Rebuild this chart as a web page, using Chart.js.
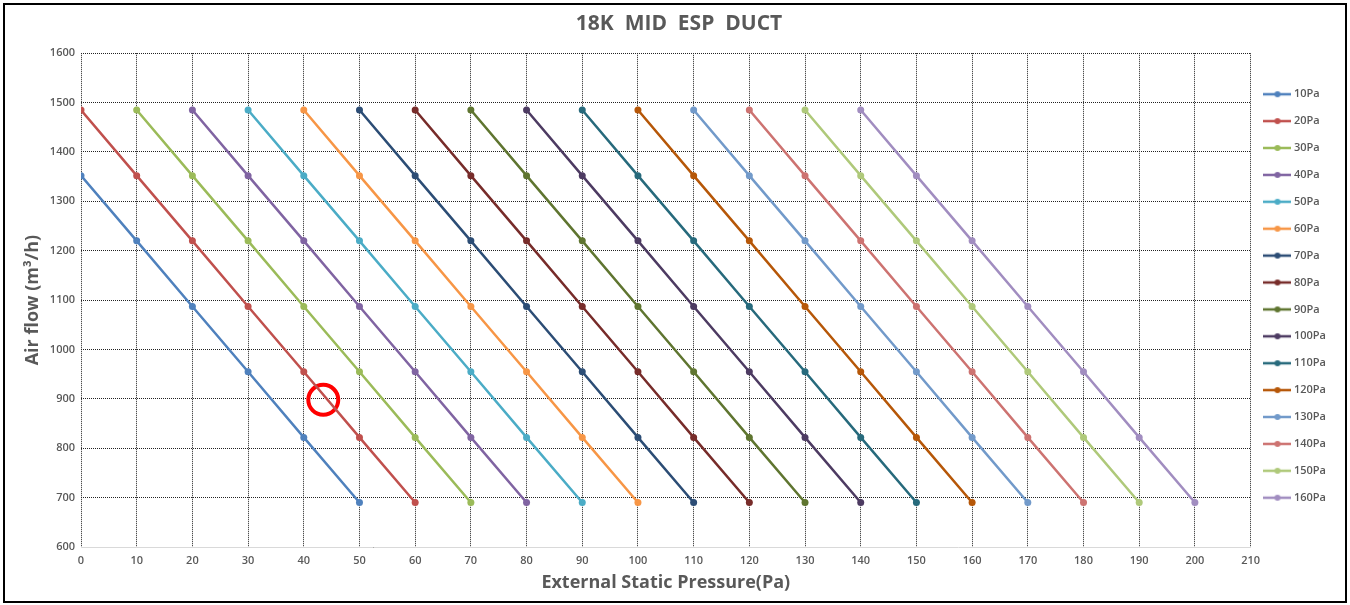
<!DOCTYPE html>
<html>
<head>
<meta charset="utf-8">
<script src="https://cdn.jsdelivr.net/npm/chart.js@4/dist/chart.umd.min.js"></script>
<style>
    html, body { margin: 0; padding: 0; background: #fff; }
    #wrap { position: relative; width: 1350px; height: 605px; }
    #frame { position: absolute; left: 3px; top: 3px; width: 1340px; height: 596px; border: 2px solid #000; pointer-events: none; }
</style>
</head>
<body>
<div id="wrap">
    <canvas id="ductChart" width="1350" height="605"></canvas>
    <div id="frame"></div>
</div>
<script>
// values
const seriesLabels = ['10Pa','20Pa','30Pa','40Pa','50Pa','60Pa','70Pa','80Pa','90Pa','100Pa','110Pa','120Pa','130Pa','140Pa','150Pa','160Pa'];
const seriesColors = ['#4F81BD','#C0504D','#9BBB59','#8064A2','#4BACC6','#F79646','#2C4D75','#772C2A','#5F7530','#4D3B62','#276A7C','#B65708','#729ACA','#CD7371','#AFC97A','#A18DC0'];

const pressures = [
    [0, 10, 20, 30, 40, 50],
    [0, 10, 20, 30, 40, 50, 60],
    [10, 20, 30, 40, 50, 60, 70],
    [20, 30, 40, 50, 60, 70, 80],
    [30, 40, 50, 60, 70, 80, 90],
    [40, 50, 60, 70, 80, 90, 100],
    [50, 60, 70, 80, 90, 100, 110],
    [60, 70, 80, 90, 100, 110, 120],
    [70, 80, 90, 100, 110, 120, 130],
    [80, 90, 100, 110, 120, 130, 140],
    [90, 100, 110, 120, 130, 140, 150],
    [100, 110, 120, 130, 140, 150, 160],
    [110, 120, 130, 140, 150, 160, 170],
    [120, 130, 140, 150, 160, 170, 180],
    [130, 140, 150, 160, 170, 180, 190],
    [140, 150, 160, 170, 180, 190, 200]
];
const airflowShort = [1352, 1220, 1087, 955, 822, 690];
const airflowFull = [1485, 1352, 1220, 1087, 955, 822, 690];
const airflows = [airflowShort, airflowFull, airflowFull, airflowFull, airflowFull, airflowFull, airflowFull, airflowFull,
    airflowFull, airflowFull, airflowFull, airflowFull, airflowFull, airflowFull, airflowFull, airflowFull];

const marked = { x: 43.5, y: 898 };   // red circle drawn on the picture

const xMin = 0, xMax = 210, xStep = 10;
const yMin = 600, yMax = 1600, yStep = 100;

const grey = '#595959';
const fontFamily = '"Open Sans", "Noto Sans", sans-serif';

function legendIcon(color) {
    const c = document.createElement('canvas');
    c.width = 28; c.height = 8;
    const g = c.getContext('2d');
    g.strokeStyle = color;
    g.lineWidth = 2.5;
    g.beginPath(); g.moveTo(0, 4); g.lineTo(28, 4); g.stroke();
    g.fillStyle = color;
    g.beginPath(); g.arc(14, 4, 3, 0, Math.PI * 2); g.fill();
    return c;
}

const icons = seriesColors.map(legendIcon);

const datasets = seriesLabels.map((label, i) => ({
    label: label,
    data: pressures[i].map((p, k) => ({ x: p, y: airflows[i][k] })),
    borderColor: seriesColors[i],
    backgroundColor: seriesColors[i],
    borderWidth: 2.5,
    pointRadius: 3.5,
    pointHoverRadius: 4,
    pointBackgroundColor: seriesColors[i],
    pointBorderWidth: 0,
    tension: 0
}));

datasets.push({
    label: 'mark',
    data: [marked],
    showLine: false,
    pointRadius: 15,
    pointBorderWidth: 4,
    pointBorderColor: '#FF0000',
    pointBackgroundColor: 'rgba(0,0,0,0)'
});

new Chart(document.getElementById('ductChart'), {
    type: 'line',
    data: { datasets: datasets },
    options: {
        responsive: false,
        animation: false,
        layout: { padding: { left: 22, right: 14, top: 8, bottom: 8 } },
        plugins: {
            title: {
                display: true,
                text: '18K  MID  ESP  DUCT',
                color: grey,
                font: { family: fontFamily, size: 21, weight: 'bold' },
                padding: { top: 3, bottom: 17 }
            },
            legend: {
                position: 'right',
                fullSize: false,
                align: 'start',
                title: {
                    display: true,
                    text: ' ',
                    font: { size: 1, lineHeight: 1 },
                    padding: { top: 0, bottom: 18.6 }
                },
                labels: {
                    color: grey,
                    font: { family: fontFamily, size: 11, weight: '600', lineHeight: 1.2 },
                    usePointStyle: true,
                    pointStyleWidth: 22,
                    padding: 15.9,
                    generateLabels: chart => seriesLabels.map((l, i) => ({
                        text: l,
                        datasetIndex: i,
                        pointStyle: icons[i],
                        fontColor: grey,
                        lineWidth: 0,
                        strokeStyle: 'rgba(0,0,0,0)',
                        fillStyle: seriesColors[i]
                    }))
                }
            },
            tooltip: { enabled: false }
        },
        scales: {
            x: {
                type: 'linear',
                min: xMin, max: xMax,
                afterFit: s => { s.height = 50; },
                ticks: { stepSize: xStep, color: grey, padding: 7, font: { family: fontFamily, size: 11, weight: '600' } },
                grid: { color: '#222', lineWidth: 1, drawTicks: false },
                border: { display: true, color: '#d9d9d9', width: 1, dash: [1, 1] },
                title: {
                    display: true,
                    text: 'External Static Pressure(Pa)',
                    color: grey,
                    font: { family: fontFamily, size: 18, weight: 'bold' },
                    padding: { top: 0, bottom: 3 }
                }
            },
            y: {
                type: 'linear',
                min: yMin, max: yMax,
                afterFit: s => { s.width = 59; },
                ticks: {
                    stepSize: yStep, color: grey, padding: 6,
                    font: { family: fontFamily, size: 11, weight: '600' },
                    callback: v => String(v)
                },
                grid: { color: '#222', lineWidth: 1, drawTicks: false },
                border: { display: false, dash: [1, 1] },
                title: {
                    display: true,
                    text: 'Air flow (m\u00B3/h)',
                    color: grey,
                    font: { family: fontFamily, size: 18, weight: 'bold' },
                    padding: { top: 0, bottom: 0 }
                }
            }
        }
    }
});
</script>
</body>
</html>
